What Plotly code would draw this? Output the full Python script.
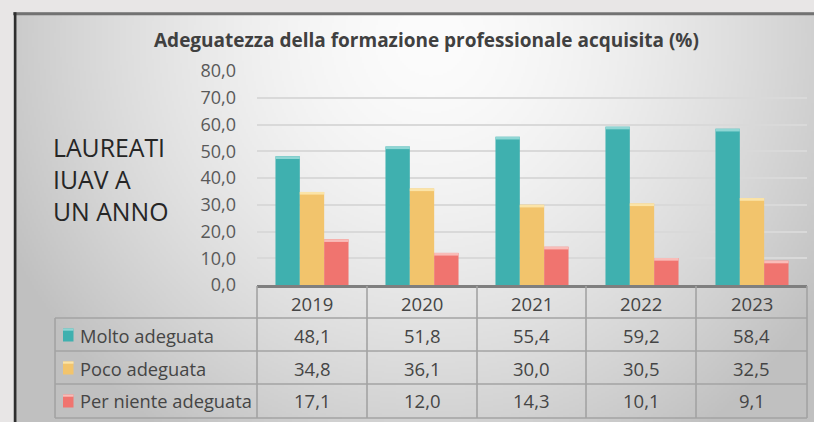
import base64, struct, zlib
import numpy as np
import plotly.graph_objects as go

# ---------------- data ----------------
years = ["2019", "2020", "2021", "2022", "2023"]
molto = [48.1, 51.8, 55.4, 59.2, 58.4]
poco = [34.8, 36.1, 30.0, 30.5, 32.5]
niente = [17.1, 12.0, 14.3, 10.1, 9.1]
series_names = ["Molto adeguata", "Poco adeguata", "Per niente adeguata"]
title_text = "Adeguatezza della formazione professionale acquisita (%)"
side_text = "LAUREATI<br>IUAV A<br>UN ANNO"

# ---------------- geometry (pixels) ----------------
W, H = 814, 422
PL, PR, PT, PB = 257, 807, 71, 285  # plot area


def px(x):
    return (x - PL) / (PR - PL)


def py(y):
    return (PB - y) / (PB - PT)


def fmt(v):
    return f"{v:.1f}".replace(".", ",")


# ---------------- gradient background image ----------------
def make_png(arr):
    h, w = arr.shape
    raw = b"".join(b"\x00" + arr[i].tobytes() for i in range(h))

    def chunk(t, d):
        c = struct.pack(">I", len(d)) + t + d
        return c + struct.pack(">I", zlib.crc32(t + d) & 0xFFFFFFFF)

    ihdr = struct.pack(">IIBBBBB", w, h, 8, 0, 0, 0, 0)
    return (b"\x89PNG\r\n\x1a\n" + chunk(b"IHDR", ihdr)
            + chunk(b"IDAT", zlib.compress(raw, 9)) + chunk(b"IEND", b""))


FX0, FY0 = 13, 12
gw, gh = (W - FX0) // 2, (H - FY0) // 2
xs = FX0 + (np.arange(gw) + 0.5) * 2
ys = FY0 + (np.arange(gh) + 0.5) * 2
XX, YY = np.meshgrid(xs, ys)
r = np.sqrt(((XX - 430) / 470) ** 2 + ((YY - 40) / 480) ** 2)
r = np.clip(r, 0, 1)
img = np.clip(252 - 60 * r ** 1.6, 0, 255).astype(np.uint8)
uri = "data:image/png;base64," + base64.b64encode(make_png(img)).decode()

# ---------------- colours ----------------
cols = ["#3fb0af", "#f2c46c", "#f0746f"]
caps = ["#8fd6d4", "#fbe4a8", "#f9bcb8"]
vals_all = [molto, poco, niente]
CAP = 1.0

fig = go.Figure()
for name, vals, c, cc in zip(series_names, vals_all, cols, caps):
    fig.add_bar(x=years, y=vals, name=name, marker_color=c,
                marker_line_width=0, offsetgroup=name, hoverinfo="skip")
    fig.add_bar(x=years, y=[CAP] * len(vals), base=[v - CAP for v in vals],
                marker_color=cc, marker_line_width=0, offsetgroup=name,
                hoverinfo="skip", showlegend=False)

shapes = []
annotations = []

# frame borders
shapes.append(dict(type="line", xref="paper", yref="paper",
                   x0=px(FX0), x1=px(W + 2), y0=py(13.7), y1=py(13.7),
                   line=dict(color="#727272", width=3)))
shapes.append(dict(type="line", xref="paper", yref="paper",
                   x0=px(15.2), x1=px(15.2), y0=py(12.3), y1=py(H + 2),
                   line=dict(color="#2e2e2e", width=2.5)))

# table grid
tcol = "#a3a3a3"
col_edges = [257, 367, 477, 586, 696, 807]
row_edges = [318, 351, 384, 418]
for xe in col_edges:
    shapes.append(dict(type="line", xref="paper", yref="paper",
                       x0=px(xe), x1=px(xe), y0=py(286), y1=py(418),
                       line=dict(color=tcol, width=1.6)))
for ye in row_edges:
    shapes.append(dict(type="line", xref="paper", yref="paper",
                       x0=px(55), x1=px(807), y0=py(ye), y1=py(ye),
                       line=dict(color=tcol, width=1.6)))
shapes.append(dict(type="line", xref="paper", yref="paper",
                   x0=px(55), x1=px(55), y0=py(318), y1=py(418),
                   line=dict(color=tcol, width=1.6)))

font_main = "Open Sans"
txtcol = "#454545"

# header years
for i, yr in enumerate(years):
    cx = (col_edges[i] + col_edges[i + 1]) / 2
    annotations.append(dict(x=px(cx), y=py(303), xref="paper", yref="paper",
                            text=yr, showarrow=False, xanchor="center",
                            yanchor="middle",
                            font=dict(family=font_main, size=18.5, color=txtcol)))

row_centers = [335, 368, 401]
for ri, (name, vals, c, cc) in enumerate(zip(series_names, vals_all, cols, caps)):
    yc = row_centers[ri]
    shapes.append(dict(type="rect", xref="paper", yref="paper",
                       x0=px(63), x1=px(73.5), y0=py(yc - 6.5), y1=py(yc + 6.5),
                       fillcolor=c, line=dict(width=0)))
    shapes.append(dict(type="rect", xref="paper", yref="paper",
                       x0=px(63), x1=px(73.5), y0=py(yc - 6.5), y1=py(yc - 4.3),
                       fillcolor=cc, line=dict(width=0)))
    annotations.append(dict(x=px(78), y=py(yc), xref="paper", yref="paper",
                            text=name, showarrow=False, xanchor="left",
                            yanchor="middle",
                            font=dict(family=font_main, size=18.3, color=txtcol)))
    for i, v in enumerate(vals):
        cx = (col_edges[i] + col_edges[i + 1]) / 2
        annotations.append(dict(x=px(cx), y=py(yc), xref="paper", yref="paper",
                                text=fmt(v), showarrow=False, xanchor="center",
                                yanchor="middle",
                                font=dict(family=font_main, size=18.5, color=txtcol)))

# title
annotations.append(dict(x=px(426), y=py(40), xref="paper", yref="paper",
                        text="<b>" + title_text + "</b>", showarrow=False,
                        xanchor="center", yanchor="middle",
                        font=dict(family=font_main, size=19, color="#404040")))
# side text
annotations.append(dict(x=px(51), y=py(179), xref="paper", yref="paper",
                        text=side_text, showarrow=False, xanchor="left",
                        yanchor="middle", align="left",
                        font=dict(family=font_main, size=24.8, color="#262626")))

fig.update_layout(
    width=W, height=H,
    margin=dict(l=PL, r=W - PR, t=PT, b=H - PB, autoexpand=False),
    paper_bgcolor="#e8e6e6",
    plot_bgcolor="rgba(0,0,0,0)",
    barmode="group", bargap=0.336, bargroupgap=0,
    showlegend=False,
    separators=",.",
    shapes=shapes,
    annotations=annotations,
    images=[dict(source=uri, xref="paper", yref="paper",
                 x=px(FX0), y=py(FY0), sizex=px(W) - px(FX0),
                 sizey=py(FY0) - py(H), xanchor="left", yanchor="top",
                 sizing="stretch", layer="below")],
    xaxis=dict(type="category", showticklabels=False, showgrid=False,
               showline=True, linecolor="#7f7f7f", linewidth=3,
               ticks="", zeroline=False, fixedrange=True),
    yaxis=dict(range=[0, 80], dtick=10, tickformat=".1f",
               showgrid=True, gridcolor="#d9d9d9", gridwidth=2,
               zeroline=False, showline=False, ticks="",
               ticklabelstandoff=20,
               tickfont=dict(family=font_main, size=18, color="#595959"),
               fixedrange=True),
)

fig.write_html("out.html",
               config={"displayModeBar": False, "staticPlot": True},
               post_script="document.body.style.margin='0';"
                           "document.body.style.overflow='hidden';")
